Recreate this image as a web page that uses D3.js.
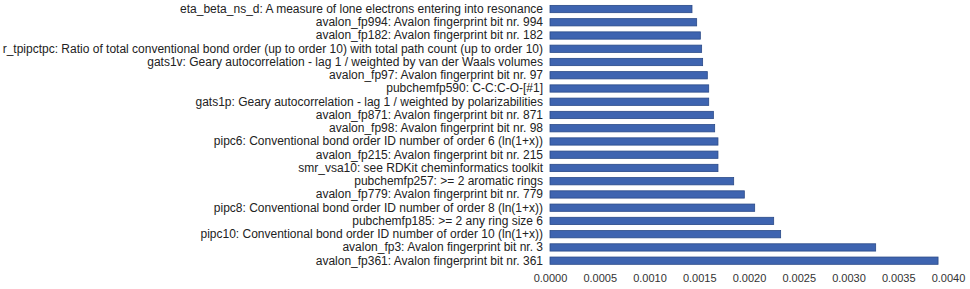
<!DOCTYPE html>
<html lang="en">
<head>
    <meta charset="UTF-8">
    <title>Feature importance</title>
    <script src="https://d3js.org/d3.v7.min.js"></script>
    <style>
        body {margin: 0; background: #fff;}
        text {
            font-family: 'Liberation Sans', Arial, sans-serif;
            font-size: 11px;
        }
    </style>
</head>
<body>
<script>

    const width  = 970;
    const height = 289;

    // top to bottom, as shown
    const features = [
        "eta_beta_ns_d: A measure of lone electrons entering into resonance",
        "avalon_fp994: Avalon fingerprint bit nr. 994",
        "avalon_fp182: Avalon fingerprint bit nr. 182",
        "r_tpipctpc: Ratio of total conventional bond order (up to order 10) with total path count (up to order 10)",
        "gats1v: Geary autocorrelation - lag 1 / weighted by van der Waals volumes",
        "avalon_fp97: Avalon fingerprint bit nr. 97",
        "pubchemfp590: C-C:C-O-[#1]",
        "gats1p: Geary autocorrelation - lag 1 / weighted by polarizabilities",
        "avalon_fp871: Avalon fingerprint bit nr. 871",
        "avalon_fp98: Avalon fingerprint bit nr. 98",
        "pipc6: Conventional bond order ID number of order 6 (ln(1+x))",
        "avalon_fp215: Avalon fingerprint bit nr. 215",
        "smr_vsa10: see RDKit cheminformatics toolkit",
        "pubchemfp257: >= 2 aromatic rings",
        "avalon_fp779: Avalon fingerprint bit nr. 779",
        "pipc8: Conventional bond order ID number of order 8 (ln(1+x))",
        "pubchemfp185: >= 2 any ring size 6",
        "pipc10: Conventional bond order ID number of order 10 (ln(1+x))",
        "avalon_fp3: Avalon fingerprint bit nr. 3",
        "avalon_fp361: Avalon fingerprint bit nr. 361"
    ];

    const importance = [
        0.001427, 0.001474, 0.001511, 0.001524, 0.001534,
        0.001581, 0.001595, 0.001595, 0.001642, 0.001655,
        0.001688, 0.001688, 0.001688, 0.001846, 0.001953,
        0.002057, 0.002248, 0.002318, 0.003273, 0.003900
    ];

    const xTicks = [0, 0.0005, 0.001, 0.0015, 0.002, 0.0025, 0.003, 0.0035, 0.004];

    const x = d3.scaleLinear()
            .domain([0, 0.004])
            .range([550, 948]);

    const y = d3.scaleBand()
            .domain(features)
            .range([2.4, 267.3])
            .paddingInner(0.45)
            .paddingOuter(0.225);

    const svg = d3.select("body")
            .append("svg")
            .attr("width", width)
            .attr("height", height);

    svg.append("g")
            .selectAll("rect")
            .data(features)
            .enter()
            .append("rect")
            .attr("x", x(0))
            .attr("y", d => y(d))
            .attr("width", (d, i) => x(importance[i]) - x(0))
            .attr("height", y.bandwidth())
            .style("fill", "#3e64b0")
            .style("stroke", "#2a4a88")
            .style("stroke-width", 0.8);

    const yAxis = d3.axisLeft(y).tickSize(0).tickPadding(7);
    const gy = svg.append("g")
            .attr("transform", "translate(" + x(0) + ",0)")
            .call(yAxis);
    gy.select(".domain").remove();
    gy.selectAll("text").style("fill", "#222").style("font-size", "12px");

    const xAxis = d3.axisBottom(x)
            .tickValues(xTicks)
            .tickFormat(d3.format(".4f"))
            .tickSize(0)
            .tickPadding(0);
    const gx = svg.append("g")
            .attr("transform", "translate(0,274)")
            .call(xAxis);
    gx.select(".domain").remove();
    gx.selectAll("text").style("fill", "#333").style("font-size", "11px");

</script>
</body>
</html>
